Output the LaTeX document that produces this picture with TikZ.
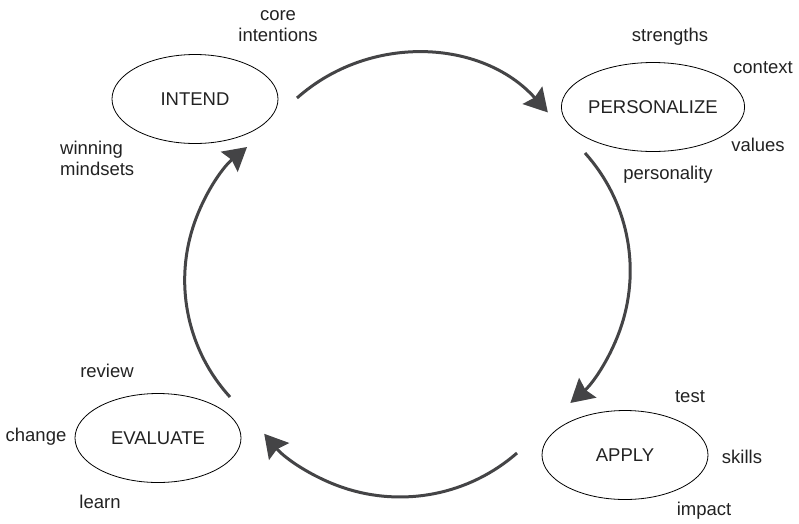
\documentclass[tikz,border=0pt]{standalone}
\usepackage{fontspec}
\setmainfont{Liberation Sans}
\usetikzlibrary{shapes.geometric,arrows.meta}
\definecolor{arrowgray}{HTML}{444446}
\definecolor{inktext}{HTML}{222222}
\begin{document}
\begin{tikzpicture}[x=1pt,y=1pt,
  stage/.style={ellipse,draw=black,line width=0.8pt,minimum width=166pt,
    minimum height=89pt,inner sep=0pt,text=inktext,
    font=\fontsize{18.5}{22}\selectfont},
  lbl/.style={text=inktext,font=\fontsize{18.5}{21}\selectfont,
    inner sep=0pt,align=center},
  loopline/.style={draw=arrowgray,line width=3pt,
    -{Stealth[length=23pt,width=26pt,inset=3pt]}}]
\useasboundingbox (0,0) rectangle (799,-523);

% the four stages
\node[stage] (intend)   at (195,-99)  {INTEND};
\node[stage] (persona)  at (653,-107) {PERSONALIZE};
\node[stage] (apply)    at (625,-455) {APPLY};
\node[stage] (evaluate) at (158,-438) {EVALUATE};

% labels around each stage
\node[lbl] (core)     at (278,-26)  {core\\intentions};
\node[lbl,anchor=west,align=left] (mind) at (60,-158) {winning\\mindsets};
\node[lbl] (strength) at (670,-37)  {strengths};
\node[lbl] (context)  at (763,-68)  {context};
\node[lbl] (values)   at (758,-145) {values};
\node[lbl] (persnl)   at (668,-175) {personality};
\node[lbl] (test)     at (690,-397) {test};
\node[lbl] (skills)   at (742,-457) {skills};
\node[lbl] (impact)   at (704,-511) {impact};
\node[lbl] (review)   at (107,-371) {review};
\node[lbl] (change)   at (36,-437)  {change};
\node[lbl] (learn)    at (100,-502) {learn};

% starting points of the cycle arrows
\coordinate (s1) at (297,-98);
\coordinate (s2) at (585,-153);
\coordinate (s3) at (517,-453);
\coordinate (s4) at (230,-397);

% the cycle: four quarter arcs, each bulging outwards
\draw[loopline] (s1) arc[start angle=131.6, end angle=41.8,  radius=178];
\draw[loopline] (s2) arc[start angle=42.0,  end angle=-48.7, radius=176];
\draw[loopline] (s3) arc[start angle=-48.8, end angle=-139.9,radius=177.6];
\draw[loopline] (s4) arc[start angle=222.4, end angle=129.8, radius=173.3];
\end{tikzpicture}
\end{document}
